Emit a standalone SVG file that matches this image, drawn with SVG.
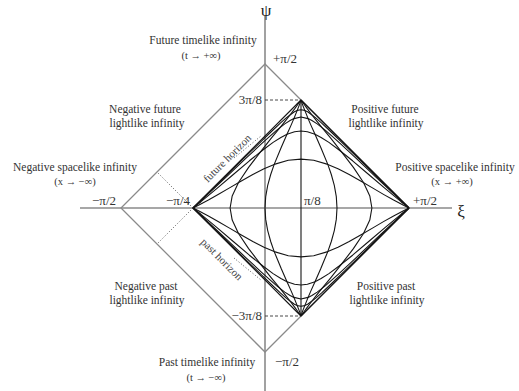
<svg xmlns="http://www.w3.org/2000/svg" xmlns:xlink="http://www.w3.org/1999/xlink" width="519" height="391" viewBox="0 0 519 391">
<style>
.ax{stroke:#8a8a8a;stroke-width:1.6;fill:none}
.od{stroke:#8a8a8a;stroke-width:1.3;fill:none}
.edge{stroke:#151515;stroke-width:1.2;fill:none}
.cv{stroke:#151515;stroke-width:1.1;fill:none;stroke-linejoin:round}
.dash{stroke:#333;stroke-width:0.9;stroke-dasharray:3 2;fill:none}
.dot{stroke:#555;stroke-width:1;stroke-dasharray:1 2;fill:none}
text{font-family:"Liberation Serif","Times New Roman",serif;fill:#333}
.lb{font-size:11.5px;text-anchor:middle}
.sm{font-size:10.5px;text-anchor:middle}
.val{font-size:13px}
.hz{font-size:11px;text-anchor:middle;fill:#444}
.gr{font-size:17px;text-anchor:middle;fill:#222}
</style>
<defs>
<path id="rho1" d="M265,208 L265.7,196.6 267.7,185.4 270.7,174.5 274.2,164.4 281.3,147.2 287,134.3 291.1,125.1 293.9,118.6 297.2,110.4 298.9,106.1 299.8,103.6 301,100"/>
<path id="rho06" d="M230.1,208 L232.2,195.9 238.5,182.5 248.6,167.4 260.5,151.9 271.3,138.2 279.8,127.8 285.8,120.3 290,115 295,108.4 297.6,104.8 299.8,101.7 301,100"/>
<path id="eta05" d="M193,208 L198.5,205.3 208.4,200.1 218.1,194.6 229.1,188.1 240.9,181.2 252.8,174.5 264,168.8 274.2,164.4 288.3,160.3 301,159.1 313.7,160.3 327.8,164.4 338,168.8 349.2,174.5 361.1,181.2 372.9,188.1 383.9,194.6 393.6,200.1 403.5,205.3 409,208"/>
<path id="eta1" d="M193,208 L201,201.7 217,188.4 233.3,174.5 249.4,160.8 262.9,150 273.1,142.4 280.9,137.5 287,134.3 294.6,131.7 301,131 307.4,131.7 315,134.3 321.1,137.5 328.9,142.4 339.1,150 352.6,160.8 368.7,174.5 385,188.4 401,201.7 409,208"/>
<path id="eta15" d="M193,208 L199,202.5 206.4,195.6 225.3,177.8 245.8,158.4 261.9,143.4 270.3,135.8 276.5,130.4 284.8,123.9 290.1,120.5 293.9,118.6 301,117 308.1,118.6 311.9,120.5 317.2,123.9 325.5,130.4 331.7,135.8 340.1,143.4 356.2,158.4 376.7,177.8 395.6,195.6 403,202.5 409,208"/>
<path id="eta2" d="M193,208 L197.7,203.4 203.3,198 217.6,184 234.4,167.5 250.1,152.2 262,140.6 270.4,132.5 280.6,122.9 286.3,117.9 290,115 294.4,111.8 297.2,110.4 301,109.7 304.8,110.4 307.6,111.8 312,115 315.7,117.9 321.4,122.9 331.6,132.5 340,140.6 351.9,152.2 367.6,167.5 384.4,184 398.7,198 404.3,203.4 409,208"/>
</defs>

<g id="axes">
<line class="ax" x1="265" y1="16" x2="265" y2="391"/>
<line class="ax" x1="80" y1="208" x2="452" y2="208"/>
</g>

<g id="outer-diamond">
<polygon class="od" points="265,64 409,208 265,352 121,208"/>
<line class="dot" x1="193" y1="208" x2="157" y2="172"/>
<line class="dot" x1="193" y1="208" x2="157" y2="244"/>
</g>

<g id="connectors">
<line class="edge" x1="193" y1="208" x2="301" y2="100"/>
<line class="edge" x1="193" y1="208" x2="301" y2="316"/>
<line class="edge" x1="301" y1="100" x2="409" y2="208"/>
<line class="edge" x1="301" y1="316" x2="409" y2="208"/>
<line class="cv" x1="301" y1="100" x2="301" y2="316"/>
<line class="dash" x1="265" y1="100" x2="301" y2="100"/>
<line class="dash" x1="265" y1="316" x2="301" y2="316"/>
<line class="dot" x1="234" y1="158" x2="261" y2="136"/>
<line class="dot" x1="234" y1="258" x2="261" y2="280"/>
<use class="cv" xlink:href="#eta05"/>
<use class="cv" xlink:href="#eta05" transform="matrix(1 0 0 -1 0 416)"/>
<use class="cv" xlink:href="#eta1"/>
<use class="cv" xlink:href="#eta1" transform="matrix(1 0 0 -1 0 416)"/>
<use class="cv" xlink:href="#eta15"/>
<use class="cv" xlink:href="#eta15" transform="matrix(1 0 0 -1 0 416)"/>
<use class="cv" xlink:href="#eta2"/>
<use class="cv" xlink:href="#eta2" transform="matrix(1 0 0 -1 0 416)"/>
<use class="cv" xlink:href="#rho1"/>
<use class="cv" xlink:href="#rho1" transform="matrix(1 0 0 -1 0 416)"/>
<use class="cv" xlink:href="#rho1" transform="matrix(-1 0 0 1 602 0)"/>
<use class="cv" xlink:href="#rho1" transform="matrix(-1 0 0 -1 602 416)"/>
<use class="cv" xlink:href="#rho06"/>
<use class="cv" xlink:href="#rho06" transform="matrix(1 0 0 -1 0 416)"/>
<use class="cv" xlink:href="#rho06" transform="matrix(-1 0 0 1 602 0)"/>
<use class="cv" xlink:href="#rho06" transform="matrix(-1 0 0 -1 602 416)"/>
</g>

<g id="axis-labels">
<text class="gr" x="266" y="16">ψ</text>
<text class="gr" x="461" y="217" font-size="19">ξ</text>
<text class="val" x="273" y="63" font-size="14">+π/2</text>
<text class="val" x="275" y="366" font-size="14">−π/2</text>
<text class="val" x="116" y="205" text-anchor="end" font-size="14">−π/2</text>
<text class="val" x="413" y="205" font-size="14">+π/2</text>
<text class="val" x="190" y="205" text-anchor="end" font-size="12">−π/4</text>
<text class="val" x="304" y="205" font-size="11">π/8</text>
<text class="val" x="262" y="104" text-anchor="end" font-size="12">3π/8</text>
<text class="val" x="262" y="320" text-anchor="end" font-size="12">−3π/8</text>
</g>

<g id="horizon-labels">
<text class="hz" transform="translate(227,158) rotate(-45)" x="0" y="4">future horizon</text>
<text class="hz" transform="translate(222,259) rotate(45)" x="0" y="4">past horizon</text>
</g>

<g id="future-timelike">
<text class="lb" x="203" y="44">Future timelike infinity</text>
<text class="sm" x="201" y="59">(t → +∞)</text>
</g>
<g id="negative-future-lightlike">
<text class="lb" x="145" y="113">Negative future</text>
<text class="lb" x="147" y="127">lightlike infinity</text>
</g>
<g id="positive-future-lightlike">
<text class="lb" x="385" y="113">Positive future</text>
<text class="lb" x="386" y="127">lightlike infinity</text>
</g>
<g id="negative-spacelike">
<text class="lb" x="75" y="171">Negative spacelike infinity</text>
<text class="sm" x="75" y="185">(x → −∞)</text>
</g>
<g id="positive-spacelike">
<text class="lb" x="455" y="171">Positive spacelike infinity</text>
<text class="sm" x="452" y="185">(x → +∞)</text>
</g>
<g id="negative-past-lightlike">
<text class="lb" x="146" y="290">Negative past</text>
<text class="lb" x="147" y="304">lightlike infinity</text>
</g>
<g id="positive-past-lightlike">
<text class="lb" x="386" y="290">Positive past</text>
<text class="lb" x="387" y="304">lightlike infinity</text>
</g>
<g id="past-timelike">
<text class="lb" x="207" y="366">Past timelike infinity</text>
<text class="sm" x="206" y="381">(t → −∞)</text>
</g>
</svg>
